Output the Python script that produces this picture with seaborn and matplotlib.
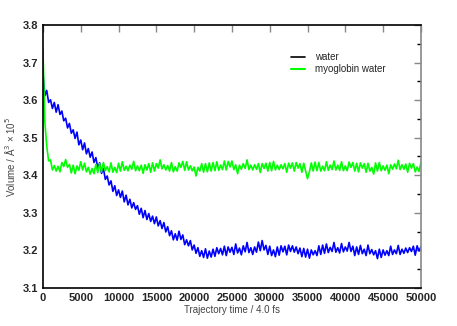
import numpy as np
import pandas as pd
import matplotlib
matplotlib.use("Agg")
import matplotlib.pyplot as plt
from matplotlib.lines import Line2D
from matplotlib.ticker import MultipleLocator
import seaborn as sns

step = 250
water = [
    3.672, 3.612, 3.626, 3.594, 3.601, 3.578, 3.594, 3.568, 3.588, 3.562,
    3.571, 3.545, 3.552, 3.526, 3.538, 3.512, 3.521, 3.498, 3.515, 3.481,
    3.494, 3.468, 3.486, 3.457, 3.471, 3.448, 3.462, 3.434, 3.447, 3.419,
    3.433, 3.405, 3.418, 3.389, 3.398, 3.374, 3.385, 3.357, 3.372, 3.346,
    3.361, 3.341, 3.358, 3.329, 3.347, 3.321, 3.336, 3.313, 3.327, 3.309,
    3.319, 3.296, 3.312, 3.287, 3.306, 3.282, 3.298, 3.277, 3.291, 3.271,
    3.289, 3.265, 3.279, 3.258, 3.274, 3.249, 3.263, 3.239, 3.252, 3.228,
    3.244, 3.227, 3.251, 3.229, 3.241, 3.215, 3.228, 3.212, 3.226, 3.201,
    3.214, 3.192, 3.207, 3.184, 3.199, 3.181, 3.204, 3.179, 3.198, 3.182,
    3.203, 3.184, 3.207, 3.191, 3.205, 3.188, 3.211, 3.186, 3.209, 3.195,
    3.208, 3.189, 3.217, 3.193, 3.206, 3.188, 3.212, 3.196, 3.221, 3.194,
    3.207, 3.189, 3.209, 3.195, 3.222, 3.199, 3.226, 3.201, 3.213, 3.189,
    3.211, 3.186, 3.201, 3.183, 3.209, 3.187, 3.212, 3.196, 3.211, 3.188,
    3.214, 3.197, 3.212, 3.195, 3.209, 3.191, 3.206, 3.183, 3.205, 3.182,
    3.203, 3.179, 3.201, 3.188, 3.199, 3.186, 3.212, 3.189, 3.214, 3.192,
    3.217, 3.194, 3.208, 3.197, 3.221, 3.195, 3.207, 3.193, 3.218, 3.196,
    3.209, 3.198, 3.221, 3.197, 3.211, 3.186, 3.209, 3.189, 3.213, 3.191,
    3.203, 3.186, 3.214, 3.191, 3.202, 3.188, 3.199, 3.178, 3.203, 3.181,
    3.201, 3.187, 3.199, 3.186, 3.211, 3.189, 3.201, 3.191, 3.213, 3.189,
    3.203, 3.192, 3.206, 3.194, 3.207, 3.197, 3.211, 3.187, 3.212, 3.198,
    3.209,
]
myoglobin_water = [
    3.735, 3.541, 3.478, 3.438, 3.441, 3.414, 3.426, 3.411, 3.424, 3.409,
    3.434, 3.423, 3.442, 3.421, 3.429, 3.406, 3.427, 3.404, 3.425, 3.413,
    3.436, 3.414, 3.432, 3.409, 3.421, 3.403, 3.418, 3.404, 3.429, 3.407,
    3.431, 3.409, 3.434, 3.412, 3.423, 3.409, 3.433, 3.408, 3.421, 3.407,
    3.432, 3.411, 3.436, 3.413, 3.424, 3.412, 3.427, 3.416, 3.437, 3.412,
    3.425, 3.412, 3.427, 3.405, 3.428, 3.414, 3.431, 3.408, 3.433, 3.411,
    3.431, 3.419, 3.441, 3.417, 3.428, 3.414, 3.426, 3.411, 3.434, 3.409,
    3.423, 3.411, 3.433, 3.421, 3.437, 3.413, 3.436, 3.414, 3.425, 3.412,
    3.422, 3.398, 3.421, 3.411, 3.431, 3.408, 3.431, 3.409, 3.433, 3.411,
    3.434, 3.412, 3.436, 3.413, 3.427, 3.415, 3.438, 3.414, 3.437, 3.422,
    3.438, 3.415, 3.428, 3.404, 3.427, 3.416, 3.431, 3.418, 3.441, 3.415,
    3.427, 3.414, 3.428, 3.416, 3.431, 3.407, 3.431, 3.418, 3.432, 3.411,
    3.434, 3.412, 3.437, 3.414, 3.427, 3.415, 3.428, 3.417, 3.431, 3.408,
    3.432, 3.419, 3.433, 3.411, 3.434, 3.419, 3.431, 3.408, 3.432, 3.411,
    3.391, 3.409, 3.433, 3.411, 3.435, 3.412, 3.434, 3.411, 3.424, 3.412,
    3.436, 3.413, 3.427, 3.415, 3.438, 3.414, 3.427, 3.413, 3.436, 3.412,
    3.425, 3.412, 3.435, 3.421, 3.434, 3.411, 3.432, 3.409, 3.433, 3.419,
    3.431, 3.408, 3.432, 3.411, 3.421, 3.403, 3.433, 3.411, 3.434, 3.412,
    3.425, 3.413, 3.427, 3.404, 3.428, 3.416, 3.430, 3.417, 3.440, 3.415,
    3.428, 3.416, 3.430, 3.408, 3.432, 3.419, 3.431, 3.409, 3.422, 3.410,
    3.433,
]
series_names = ["water", "myoglobin water"]
colors = {"water": "#0000ff", "myoglobin water": "#00ff00"}
xtick_values = list(range(0, 50001, 5000))
ytick_values = [3.1, 3.2, 3.3, 3.4, 3.5, 3.6, 3.7, 3.8]

t = np.arange(len(water)) * step
df = pd.concat([
    pd.DataFrame({"t": t, "v": water, "s": "water"}),
    pd.DataFrame({"t": t, "v": myoglobin_water, "s": "myoglobin water"}),
])

sns.set_style("white")
plt.rcParams["font.family"] = ["Liberation Sans", "DejaVu Sans"]

fig = plt.figure(figsize=(4.57, 3.26), dpi=100)
ax = fig.add_axes([0.094, 0.117, 0.827, 0.806])
sns.lineplot(data=df, x="t", y="v", hue="s", palette=colors, ax=ax,
             linewidth=1.2, legend=False, estimator=None, sort=False)

ax.set_xlim(0, 50000)
ax.set_ylim(3.1, 3.8)
ax.yaxis.set_minor_locator(MultipleLocator(0.05))
ax.xaxis.set_minor_locator(MultipleLocator(2500))
ax.tick_params(axis="both", which="major", direction="in", length=5, width=1,
               top=True, right=True, labelsize=8, color="#888888")
ax.tick_params(axis="both", which="minor", direction="in", length=3, width=1,
               top=False, bottom=False, right=True, color="black")
ax.set_xticks(xtick_values)
ax.set_xticklabels([str(v) for v in xtick_values], fontweight="bold", fontsize=8)
ax.set_yticks(ytick_values)
ax.set_yticklabels(["%.1f" % v for v in ytick_values], fontweight="bold", fontsize=8)

for side in ["left", "bottom", "top"]:
    ax.spines[side].set_color("black")
    ax.spines[side].set_linewidth(1.2)
ax.spines["right"].set_color("#888888")
ax.spines["right"].set_linewidth(1.2)

ax.set_xlabel("Trajectory time / 4.0 fs", fontsize=7, color="#444444", labelpad=2)
ax.set_ylabel("Volume / Å$^3$ × 10$^5$", fontsize=7, color="#444444", labelpad=4)

handles = [Line2D([0], [0], color="black", lw=1.2),
           Line2D([0], [0], color="#00ff00", lw=1.5)]
ax.legend(handles, series_names, loc="upper right", bbox_to_anchor=(0.93, 0.93),
          frameon=False, fontsize=7, handlelength=1.5, handletextpad=1.0,
          labelspacing=0.2)

fig.savefig("out.png", dpi=100)
